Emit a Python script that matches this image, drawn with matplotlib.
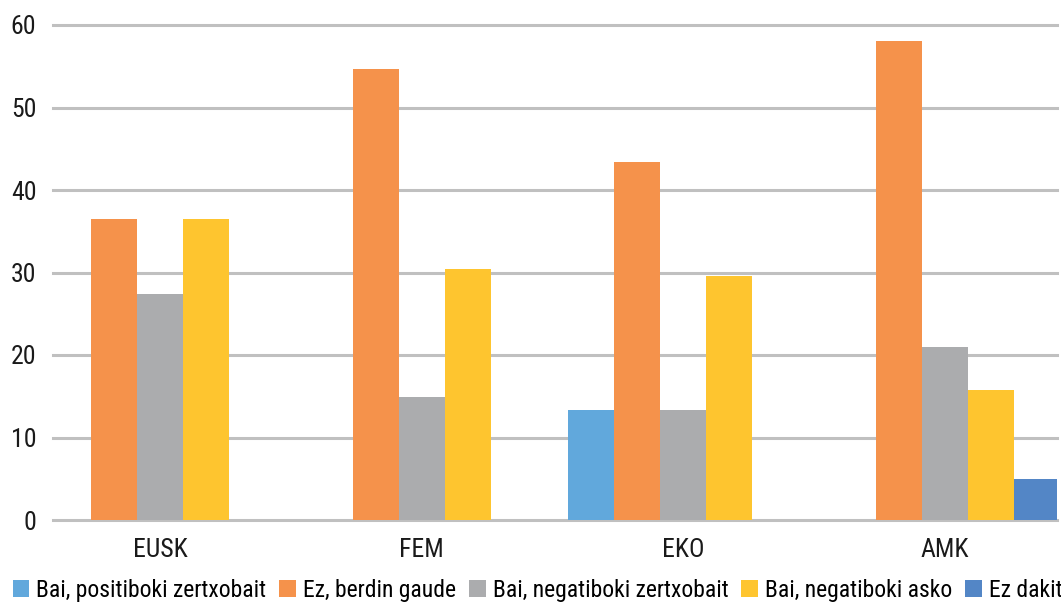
import numpy as np
import matplotlib
matplotlib.use("Agg")
import matplotlib.pyplot as plt
from matplotlib.patches import Patch

categories = ["EUSK", "FEM", "EKO", "AMK"]
series_names = [
    "Bai, positiboki zertxobait",
    "Ez, berdin gaude",
    "Bai, negatiboki zertxobait",
    "Bai, negatiboki asko",
    "Ez dakit",
]
pos_some = [0, 0, 13.3, 0]
same = [36.5, 54.7, 43.4, 58.1]
neg_some = [27.4, 14.9, 13.3, 21.0]
neg_much = [36.5, 30.4, 29.6, 15.8]
dont_know = [0, 0, 0, 5.0]
colors = ["#61A8DC", "#F5924B", "#ABACAE", "#FEC52F", "#5386C6"]
yticks = [0, 10, 20, 30, 40, 50, 60]

plt.rcParams["font.family"] = ["Roboto Condensed", "Archivo Narrow",
                               "Liberation Sans Narrow", "Roboto", "DejaVu Sans"]

fig = plt.figure(figsize=(10.61, 6.03), dpi=100)
ax = fig.add_axes([53 / 1061, 1 - 520 / 603, 1004 / 1061, 495 / 603])

values = [pos_some, same, neg_some, neg_much, dont_know]
x = np.arange(len(categories))
w = 0.176
for i, (vals, c) in enumerate(zip(values, colors)):
    ax.bar(x + (i - 2) * w, vals, width=w, color=c, zorder=3)

ax.set_ylim(0, 60)
ax.set_xlim(-0.41, 3.43)
ax.set_yticks(yticks)
ax.set_xticks(x)
ax.set_xticklabels(categories)
ax.yaxis.grid(True, color="#C0C0C0", linewidth=2.2, zorder=0)
for gl in ax.get_ygridlines():
    gl.set_clip_on(False)
for sp in ax.spines.values():
    sp.set_visible(False)
ax.tick_params(axis="both", length=0, labelsize=18.5, colors="#1a1a1a")
ax.tick_params(axis="y", pad=12)
ax.tick_params(axis="x", pad=13)

handles = [Patch(facecolor=c, label=n) for c, n in zip(colors, series_names)]
fig.legend(handles=handles, loc="lower left", bbox_to_anchor=(0.012, 0.002),
           ncol=5, frameon=False, fontsize=17, handlelength=0.7, handleheight=0.75,
           handletextpad=0.3, columnspacing=0.55, borderaxespad=0, borderpad=0)

fig.savefig("out.png", dpi=100)
